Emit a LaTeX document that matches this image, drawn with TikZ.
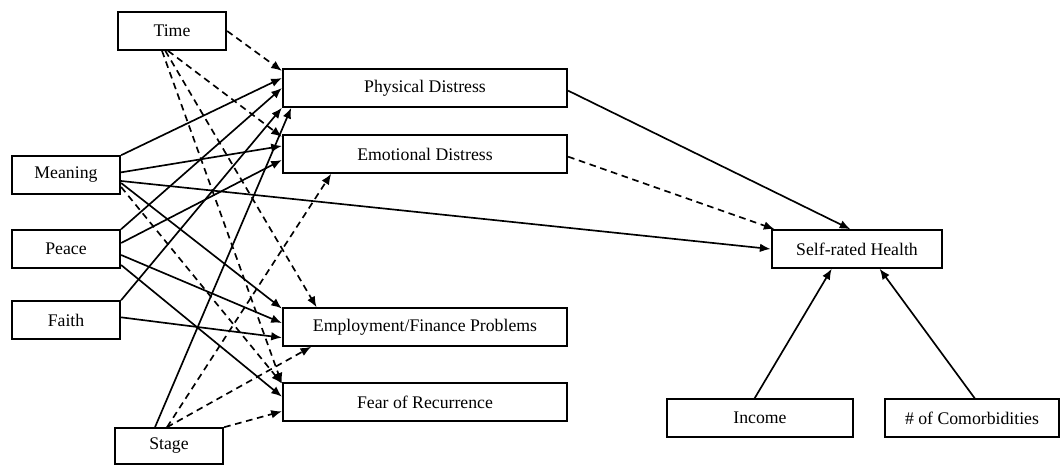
\documentclass[tikz,border=0pt]{standalone}
\usepackage{fontspec}
\setmainfont{Liberation Serif}
\usepackage{tikz}
\usetikzlibrary{arrows,arrows.meta,positioning,calc}

\begin{document}
\begin{tikzpicture}[x=0.75pt,y=-0.75pt,
		box/.style={draw,line width=1.7pt,minimum height=28pt,inner sep=0pt,font=\fontsize{13.3}{15}\selectfont},
		sig/.style={line width=1.25pt,-{Latex[length=8pt,width=6.5pt]}},
		nonsig/.style={sig,dash pattern=on 5pt off 3.5pt}]
		\useasboundingbox (0,0) rectangle (1061,465);
		\node[box,minimum width=81pt] (time) at (172,31) {Time};
		\node[box,minimum width=81pt] (meaning) at (66,175) {Meaning};
		\node[box,minimum width=81pt] (peace) at (66,249) {Peace};
		\node[box,minimum width=81pt] (faith) at (66,320) {Faith};
		\node[box,minimum width=81pt,minimum height=26.5pt] (stage) at (169,446) {Stage};
		\node[box,minimum width=213pt] (phys) at (425,88) {Physical Distress};
		\node[box,minimum width=213pt] (emo) at (425,154) {Emotional Distress};
		\node[box,minimum width=213pt] (emp) at (425,327) {Employment/Finance Problems};
		\node[box,minimum width=213pt] (fear) at (425,402) {Fear of Recurrence};
		\node[box,minimum width=128pt] (health) at (857,249) {Self-rated Health};
		\node[box,minimum width=140pt] (income) at (760,418) {Income};
		\node[box,minimum width=131pt] (comorb) at (972,418) {\# of Comorbidities};
		\draw[nonsig] (time.east) -- ([yshift=-2pt]phys.north west);
		\draw[nonsig] ([xshift=-3pt]time.south) -- ([yshift=-2pt]emo.north west);
		\draw[nonsig] ([xshift=-5pt]time.south) -- ([xshift=26pt]emp.north west);
		\draw[nonsig] ([xshift=-7.5pt]time.south) -- ([yshift=-1pt]fear.north west);
		\draw[sig] (meaning.north east) -- ([yshift=7.5pt]phys.west);
		\draw[sig] ([yshift=2pt]meaning.east) -- ([yshift=6pt]emo.west);
		\draw[sig] ([yshift=-4.5pt]meaning.east) -- (health.west);
		\draw[sig] ([yshift=-6pt]meaning.east) -- ([yshift=-1pt]emp.north west);
		\draw[nonsig] ([yshift=-9pt]meaning.east) -- ([yshift=-1pt]fear.north west);
		\draw[sig] (peace.north east) -- (phys.west);
		\draw[sig] ([yshift=4.5pt]peace.east) -- ([yshift=-4.5pt]emo.west);
		\draw[sig] ([yshift=-4.5pt]peace.east) -- ([yshift=3pt]emp.west);
		\draw[sig] ([yshift=-12pt]peace.east) -- ([yshift=4pt]fear.west);
		\draw[sig] (faith.north east) -- (phys.south west);
		\draw[sig] ([yshift=2pt]faith.east) -- ([yshift=-8pt]emp.west);
		\draw[sig] ([xshift=-10.5pt]stage.north) -- ([xshift=7pt]phys.south west);
		\draw[nonsig] ([xshift=-1.5pt]stage.north) -- ([xshift=37pt]emo.south west);
		\draw[nonsig] ([xshift=-1.5pt]stage.north) -- ([xshift=22pt]emp.south west);
		\draw[nonsig] (stage.north east) -- ([yshift=-7pt]fear.west);
		\draw[sig] ([yshift=-2pt]phys.east) -- ([xshift=-5pt]health.north);
		\draw[nonsig] ([yshift=-2pt]emo.east) -- ([xshift=3pt]health.north west);
		\draw[sig] ([xshift=-4pt]income.north) -- ([xshift=-19pt]health.south);
		\draw[sig] ([xshift=2pt]comorb.north) -- ([xshift=17pt]health.south);
\end{tikzpicture}
\end{document}
